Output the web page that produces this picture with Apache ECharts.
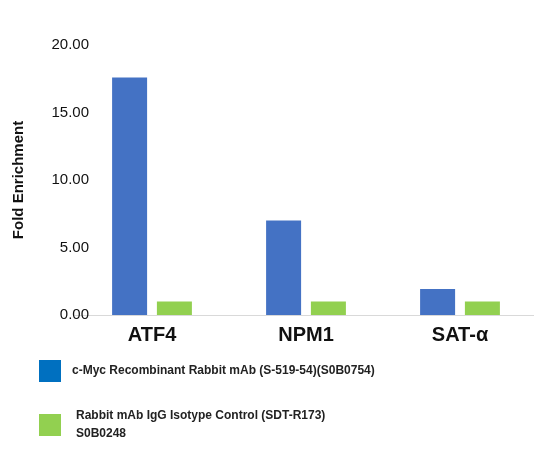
<!DOCTYPE html><html><head><meta charset="utf-8"><script src="https://cdn.jsdelivr.net/npm/echarts@6/dist/echarts.min.js"></script></head><body style="margin:0;background:#fff"><div id="c" style="width:534px;height:452px"></div><script>
const categories=['ATF4','NPM1','SAT-α'];
const cmyc=[17.6,7.0,1.93];
const igg=[1.0,1.0,1.0];
const yTicks=[0,5,10,15,20];
const names=['c-Myc Recombinant Rabbit mAb (S-519-54)(S0B0754)','Rabbit mAb IgG Isotype Control (SDT-R173)\nS0B0248'];
const chart=echarts.init(document.getElementById('c'));
chart.setOption({
 animation:false,
 grid:{left:75,right:-3,top:45,bottom:137,outerBoundsMode:'none',containLabel:false},
 xAxis:{type:'category',data:categories,axisTick:{show:false},axisLine:{lineStyle:{color:'#d9d9d9',width:1}},
  axisLabel:{color:'#111',fontSize:20,fontWeight:'bold',fontFamily:'Liberation Sans, Arial',margin:10}},
 yAxis:{type:'value',min:0,max:20,interval:5,name:'Fold Enrichment',nameLocation:'middle',nameGap:49,
  nameTextStyle:{fontSize:15,fontWeight:'bold',color:'#111',fontFamily:'Liberation Sans, Arial'},
  splitLine:{show:false},axisLine:{show:false},
  axisLabel:{color:'#111',fontSize:15,fontFamily:'Liberation Sans, Arial',formatter:v=>v.toFixed(2),margin:-14}},
 legend:[
  {orient:'vertical',left:34,top:355,itemWidth:22,itemHeight:22,icon:'rect',
   data:[{name:names[0],itemStyle:{color:'#0070C0'}}],textStyle:{fontSize:12,fontWeight:'bold',color:'#222',padding:[0,0,0,6],fontFamily:'Liberation Sans, Arial'}},
  {orient:'vertical',left:34,top:402,itemWidth:22,itemHeight:22,icon:'rect',
   data:[{name:names[1],itemStyle:{color:'#92D050'}}],textStyle:{fontSize:12,fontWeight:'bold',color:'#222',lineHeight:18,padding:[0,0,0,10],fontFamily:'Liberation Sans, Arial'}}
 ],
 series:[
  {name:names[0],type:'bar',data:cmyc,barWidth:35,barGap:'28%',barCategoryGap:'48%',itemStyle:{color:'#4472C4'}},
  {name:names[1],type:'bar',data:igg,barWidth:35,itemStyle:{color:'#92D050'}}
 ]
});
</script></body></html>
